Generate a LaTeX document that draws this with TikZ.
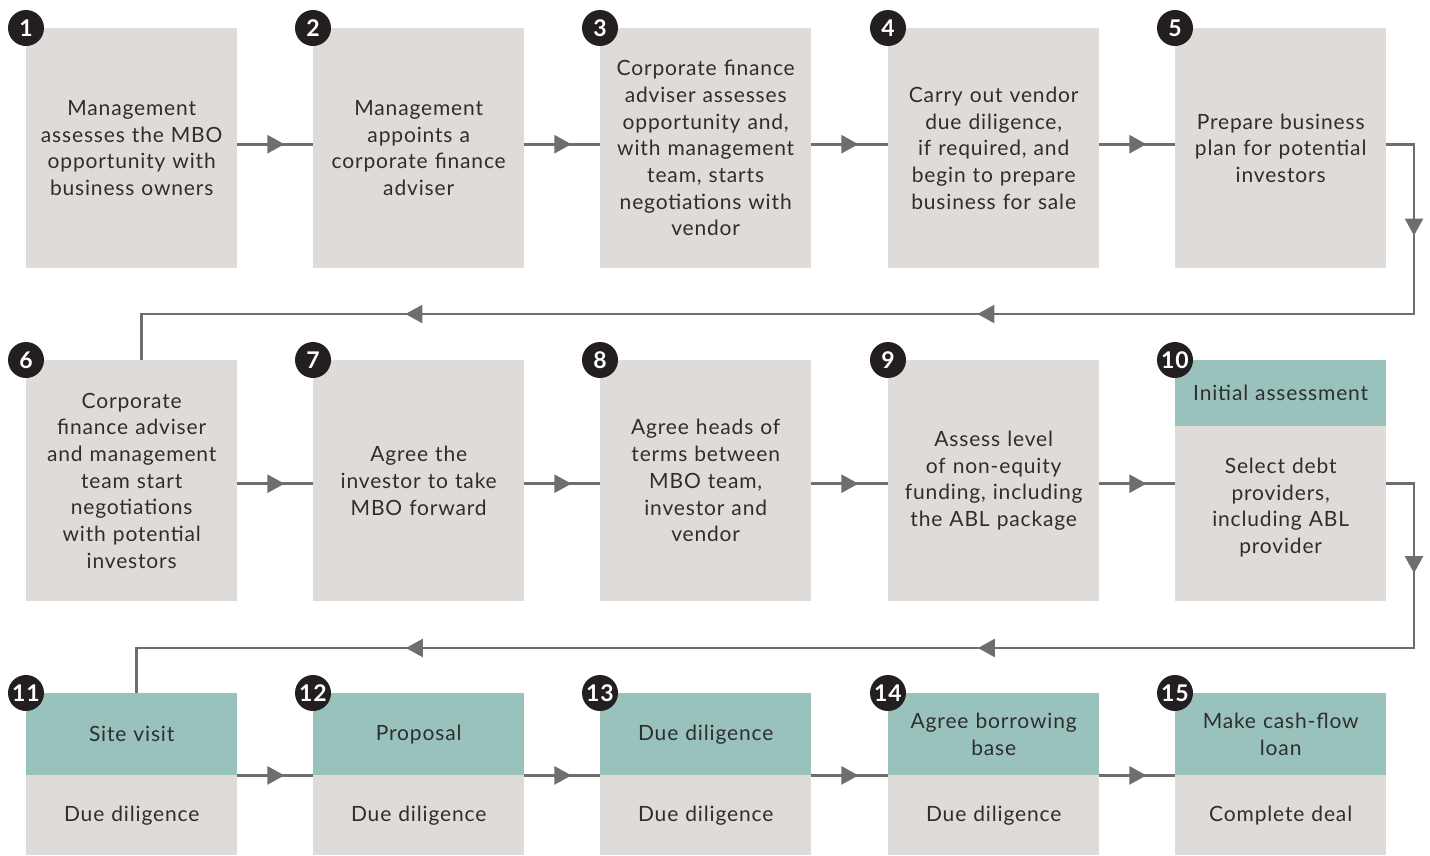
\documentclass[tikz,border=0pt]{standalone}
\usepackage{fontspec}
\setmainfont{Lato}[LetterSpace=4]
\usetikzlibrary{arrows.meta,decorations.markings}

\definecolor{boxgray}{HTML}{DFDBD8}
\definecolor{headteal}{HTML}{9AC2BD}
\definecolor{linegray}{HTML}{6D6E71}
\definecolor{txtgray}{HTML}{2E2E2E}
\definecolor{numblack}{HTML}{231F20}

\newcommand{\flowtip}{\arrow[linegray]{Triangle[length=17pt,width=18pt]}}

\tikzset{
  stepbox/.style={fill=boxgray, text=txtgray, align=center, anchor=north west,
    minimum width=211pt, text width=209pt, inner sep=0pt,
    font=\fontsize{21}{26.7}\selectfont},
  headbox/.style={stepbox, fill=headteal},
  numdot/.style={circle, fill=numblack, text=white, minimum size=36pt, inner sep=0pt,
    font=\fontsize{23}{23}\selectfont\bfseries},
  link/.style={draw=linegray, line width=2.6pt},
  midtip/.style={postaction={decorate},
    decoration={markings, mark=at position 47pt with {\flowtip}}}
}

\begin{document}
\begin{tikzpicture}[x=1pt,y=-1pt]
    \useasboundingbox (0,0) rectangle (1430,855);
    % first row
    \node[stepbox, minimum height=240pt] (s1) at (26,28) {Management\\assesses the MBO\\opportunity with\\business owners};
    \node[stepbox, minimum height=240pt] (s2) at (313,28) {Management\\appoints a\\corporate finance\\adviser};
    \node[stepbox, minimum height=240pt] (s3) at (600,28) {Corporate finance\\adviser assesses\\opportunity and,\\with management\\team, starts\\negotiations with\\vendor};
    \node[stepbox, minimum height=240pt] (s4) at (888,28) {Carry out vendor\\due diligence,\\if required, and\\begin to prepare\\business for sale};
    \node[stepbox, minimum height=240pt] (s5) at (1175,28) {Prepare business\\plan for potential\\investors};
    % second row
    \node[stepbox, minimum height=241pt] (s6) at (26,360) {Corporate\\finance adviser\\and management\\team start\\negotiations\\with potential\\investors};
    \node[stepbox, minimum height=241pt] (s7) at (313,360) {Agree the\\investor to take\\MBO forward};
    \node[stepbox, minimum height=241pt] (s8) at (600,360) {Agree heads of\\terms between\\MBO team,\\investor and\\vendor};
    \node[stepbox, minimum height=241pt] (s9) at (888,360) {Assess level\\of non-equity\\funding, including\\the ABL package};
    \node[headbox, minimum height=66pt] (h10) at (1175,360) {Initial assessment};
    \node[stepbox, minimum height=175pt] (s10) at (1175,426) {Select debt\\providers,\\including ABL\\provider\vspace{12pt}};
    % third row
    \node[headbox, minimum height=82pt] (h11) at (26,693) {Site visit};
    \node[stepbox, minimum height=80pt] (s11) at (26,775) {Due diligence};
    \node[headbox, minimum height=82pt] (h12) at (313,693) {Proposal};
    \node[stepbox, minimum height=80pt] (s12) at (313,775) {Due diligence};
    \node[headbox, minimum height=82pt] (h13) at (600,693) {Due diligence};
    \node[stepbox, minimum height=80pt] (s13) at (600,775) {Due diligence};
    \node[headbox, minimum height=82pt] (h14) at (888,693) {Agree borrowing\\base};
    \node[stepbox, minimum height=80pt] (s14) at (888,775) {Due diligence};
    \node[headbox, minimum height=82pt] (h15) at (1175,693) {Make cash-flow\\loan};
    \node[stepbox, minimum height=80pt] (s15) at (1175,775) {Complete deal};

    % numbers
    \node[numdot] (n1) at (s1.north west) {1};
    \node[numdot] (n2) at (s2.north west) {2};
    \node[numdot] (n3) at (s3.north west) {3};
    \node[numdot] (n4) at (s4.north west) {4};
    \node[numdot] (n5) at (s5.north west) {5};
    \node[numdot] (n6) at (s6.north west) {6};
    \node[numdot] (n7) at (s7.north west) {7};
    \node[numdot] (n8) at (s8.north west) {8};
    \node[numdot] (n9) at (s9.north west) {9};
    \node[numdot] (n10) at (h10.north west) {10};
    \node[numdot] (n11) at (h11.north west) {11};
    \node[numdot] (n12) at (h12.north west) {12};
    \node[numdot] (n13) at (h13.north west) {13};
    \node[numdot] (n14) at (h14.north west) {14};
    \node[numdot] (n15) at (h15.north west) {15};

    % links along the rows
    \draw[link, midtip] ([yshift=4pt]s1.east) -- ([yshift=4pt]s2.west);
    \draw[link, midtip] ([yshift=4pt]s2.east) -- ([yshift=4pt]s3.west);
    \draw[link, midtip] ([yshift=4pt]s3.east) -- ([yshift=4pt]s4.west);
    \draw[link, midtip] ([yshift=4pt]s4.east) -- ([yshift=4pt]s5.west);
    \draw[link, midtip] ([yshift=-3pt]s6.east) -- ([yshift=-3pt]s7.west);
    \draw[link, midtip] ([yshift=-3pt]s7.east) -- ([yshift=-3pt]s8.west);
    \draw[link, midtip] ([yshift=-3pt]s8.east) -- ([yshift=-3pt]s9.west);
    \draw[link, midtip] ([yshift=-3pt]s9.east) -- ([yshift=-3pt]s9.east -| s10.west);
    \draw[link, midtip] (h11.south east) -- (h12.south west);
    \draw[link, midtip] (h12.south east) -- (h13.south west);
    \draw[link, midtip] (h13.south east) -- (h14.south west);
    \draw[link, midtip] (h14.south east) -- (h15.south west);

    % links between the rows
    \coordinate (turnA) at (1414,314);
    \coordinate (turnB) at (1414,648);
    \draw[link, postaction={decorate}, decoration={markings,
        mark=at position 119pt with {\flowtip},
        mark=at position 634pt with {\flowtip},
        mark=at position 1206pt with {\flowtip}}]
      ([yshift=4pt]s5.east) -| (turnA) -| ([xshift=9.5pt]s6.north);
    \draw[link, postaction={decorate}, decoration={markings,
        mark=at position 117pt with {\flowtip},
        mark=at position 628pt with {\flowtip},
        mark=at position 1200pt with {\flowtip}}]
      ([yshift=-3pt]s9.east -| s10.east) -| (turnB) -| ([xshift=4.5pt]h11.north);
\end{tikzpicture}
\end{document}
